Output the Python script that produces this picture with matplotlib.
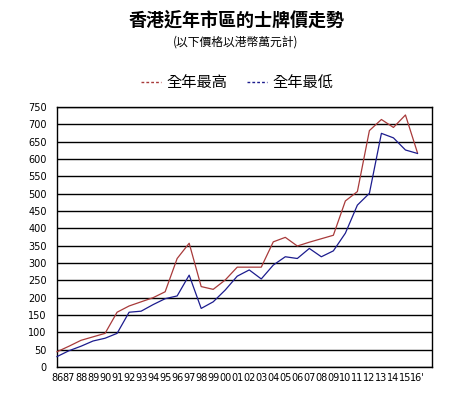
import numpy as np
import matplotlib.pyplot as plt
from matplotlib.lines import Line2D
from matplotlib.transforms import ScaledTranslation

plt.rcParams['font.family'] = ['Noto Sans CJK TC', 'DejaVu Sans']

# year labels 1986 - 2016
years = ['86', '87', '88', '89', '90', '91', '92', '93', '94', '95', '96', '97', '98', '99',
         '00', '01', '02', '03', '04', '05', '06', '07', '08', '09', '10', '11', '12', '13',
         '14', '15', "16'"]
# price in 10k HKD
high = [44, 60, 77, 87, 97, 158, 176, 188, 200, 217, 313, 357, 232, 224, 251, 288,
        288, 288, 361, 374, 349, 360, 370, 380, 479, 506, 682, 714, 691, 727, 618]
low = [30, 47, 60, 75, 83, 97, 158, 161, 180, 197, 205, 265, 169, 188, 222, 262,
       280, 254, 294, 318, 313, 342, 318, 335, 386, 467, 501, 674, 661, 626, 616]
names = ['全年最高', '全年最低']
colors = ['#a83a3a', '#1c1c8e']

fig = plt.figure(figsize=(4.72, 3.96), dpi=100)
ax = fig.add_axes([57/472, 1-367/396, 375/472, 260/396])

x = np.arange(len(years))
ax.plot(x, high, color=colors[0], lw=0.9, clip_on=False, zorder=3)
ax.plot(x, low, color=colors[1], lw=0.9, clip_on=False, zorder=3)

ax.set_xlim(0.22, 31.21)
ax.set_ylim(0, 750)
ax.set_yticks(np.arange(0, 751, 50))
ax.set_xticks(x)
ax.set_xticklabels(years, fontsize=7.0, family='DejaVu Sans')
xlabs = ax.get_xticklabels()
for i, lab in enumerate(xlabs):
    dx = -2.5 if i < len(xlabs) - 1 else 0.5  # last one carries the trailing mark
    lab.set_transform(lab.get_transform() + ScaledTranslation(dx/100, 0, fig.dpi_scale_trans))
for lab in ax.get_yticklabels():
    lab.set_fontsize(7)
    lab.set_family('DejaVu Sans')
ax.tick_params(length=0)
ax.tick_params(axis='y', pad=7.5)
ax.tick_params(axis='x', pad=4)
ax.yaxis.grid(True, color='black', lw=1)
ax.set_axisbelow(True)
for s in ax.spines.values():
    s.set_linewidth(1)
    s.set_color('black')

fig.text(0.502, 1-20.5/396, '香港近年市區的士牌價走勢', ha='center', va='center',
         fontsize=13, fontweight='bold')
fig.text(0.499, 1-42/396, '(以下價格以港幣萬元計)', ha='center', va='center', fontsize=8.5)

handles = [Line2D([], [], color=c, lw=1, ls=(0, (2, 1.5))) for c in colors]
fig.legend(handles, names, loc='center', bbox_to_anchor=(0.502, 1-83/396), ncol=2,
           frameon=False, fontsize=11, handlelength=1.3, handletextpad=0.35,
           columnspacing=1.3)

fig.savefig('out.png', dpi=100)
